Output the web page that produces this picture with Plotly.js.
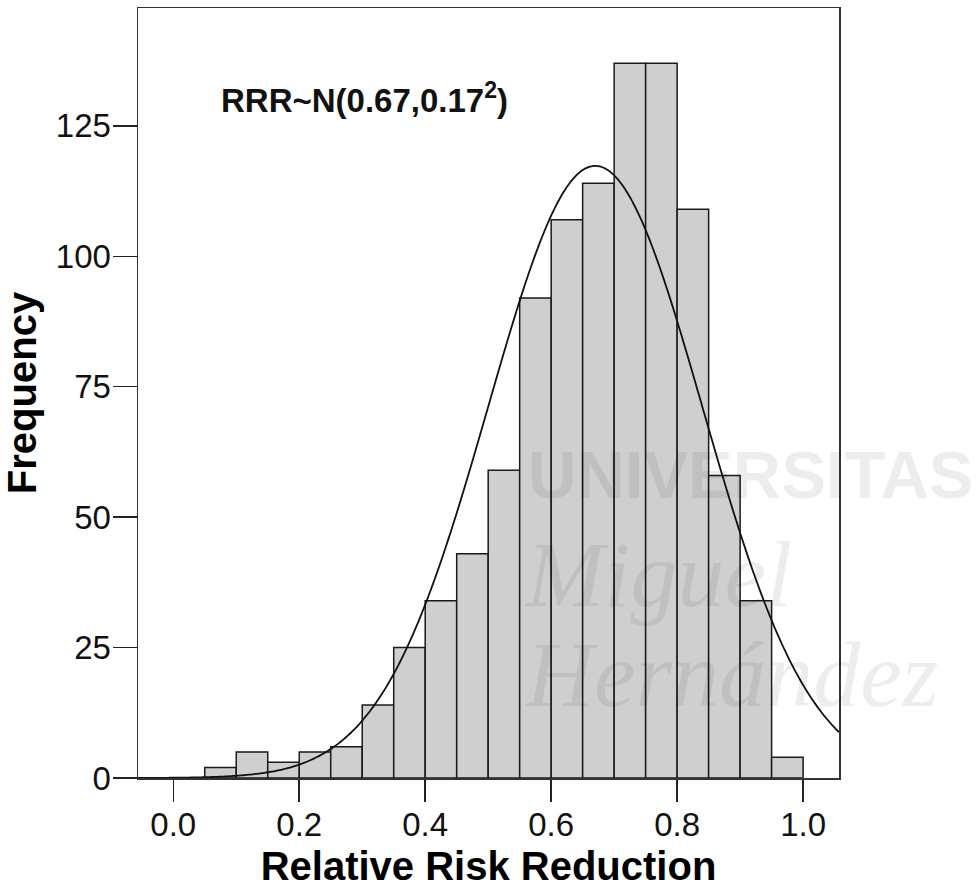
<!DOCTYPE html>
<html>
<head>
<meta charset="utf-8">
<script src="https://cdn.plot.ly/plotly-3.0.1.min.js"></script>
<style>
  html, body { margin: 0; padding: 0; background: #ffffff; }
  #chart { width: 980px; height: 893px; }
</style>
</head>
<body>
<div id="chart"></div>
<script>
// ---- Data ----
const binStarts = [0.05, 0.10, 0.15, 0.20, 0.25, 0.30, 0.35, 0.40, 0.45, 0.50,
                   0.55, 0.60, 0.65, 0.70, 0.75, 0.80, 0.85, 0.90, 0.95];
const binWidth = 0.05;
const frequencies = [2, 5, 3, 5, 6, 14, 25, 34, 43, 59,
                     92, 107, 114, 137, 137, 109, 58, 34, 4];
const xTickVals = [0.0, 0.2, 0.4, 0.6, 0.8, 1.0];
const xTickText = ["0.0", "0.2", "0.4", "0.6", "0.8", "1.0"];
const yTickVals = [0, 25, 50, 75, 100, 125];
const yTickText = ["0", "25", "50", "75", "100", "125"];

// Fitted normal curve parameters (shown on the chart)
const fitMean = 0.67;
const fitSD = 0.17;
const sampleSize = 1000;
const curveRange = [-0.056, 1.057];

// ---- Build traces ----
const binCenters = binStarts.map(s => s + binWidth / 2);

const curveX = [];
const curveY = [];
const nPts = 300;
for (let i = 0; i <= nPts; i++) {
  const x = curveRange[0] + (curveRange[1] - curveRange[0]) * i / nPts;
  const z = (x - fitMean) / fitSD;
  curveX.push(x);
  curveY.push(sampleSize * binWidth / (fitSD * Math.sqrt(2 * Math.PI)) * Math.exp(-0.5 * z * z));
}

const FONT = "Liberation Sans, Arial, Helvetica, sans-serif";
const WM = "rgba(0,0,0,0.07)";

const bars = {
  type: "bar",
  x: binCenters,
  y: frequencies,
  width: binWidth,
  marker: { color: "#cfcfcf", line: { color: "#1a1a1a", width: 1.5 } },
  hoverinfo: "x+y",
  showlegend: false
};

const curve = {
  type: "scatter",
  mode: "lines",
  x: curveX,
  y: curveY,
  line: { color: "#111111", width: 1.8, shape: "spline" },
  hoverinfo: "skip",
  showlegend: false
};

const layout = {
  width: 980,
  height: 893,
  margin: { l: 138, r: 141, t: 8, b: 115 },
  paper_bgcolor: "#ffffff",
  plot_bgcolor: "#ffffff",
  font: { family: FONT, color: "#111111" },
  bargap: 0,
  showlegend: false,
  xaxis: {
    range: curveRange,
    tickvals: xTickVals,
    ticktext: xTickText,
    ticks: "outside",
    ticklen: 22,
    tickwidth: 1.5,
    tickcolor: "#222222",
    ticklabelstandoff: -5,
    tickfont: { family: FONT, size: 33, color: "#111111" },
    showgrid: false,
    zeroline: false,
    showline: true,
    mirror: true,
    linecolor: "#333333",
    linewidth: 1.5,
    title: { text: "<b>Relative Risk Reduction</b>", font: { family: FONT, size: 40, color: "#000000" }, standoff: 10 }
  },
  yaxis: {
    range: [0, 147.6],
    tickvals: yTickVals,
    ticktext: yTickText,
    ticks: "outside",
    ticklen: 24,
    tickwidth: 1.5,
    tickcolor: "#222222",
    ticklabelstandoff: -5,
    tickfont: { family: FONT, size: 33, color: "#111111" },
    showgrid: false,
    zeroline: false,
    showline: true,
    mirror: true,
    linecolor: "#333333",
    linewidth: 1.5,
    title: { text: "<b>Frequency</b>", font: { family: FONT, size: 40, color: "#000000" }, standoff: 22 }
  },
  annotations: [
    {
      xref: "x", yref: "y", x: 0.073, y: 130.3,
      xanchor: "left", yanchor: "middle",
      text: "<b>RRR~N(0.67,0.17<sup>2</sup>)</b>",
      showarrow: false,
      font: { family: FONT, size: 33, color: "#111111" }
    },
    {
      xref: "paper", yref: "paper", x: 0.553, y: 0.394,
      xanchor: "left", yanchor: "middle",
      text: "<b>UNIVERSITAS</b>", showarrow: false,
      font: { family: FONT, size: 67, color: WM }
    },
    {
      xref: "paper", yref: "paper", x: 0.548, y: 0.265,
      xanchor: "left", yanchor: "middle",
      text: "<i>Miguel</i>", showarrow: false,
      font: { family: "Liberation Serif, serif", size: 94, color: WM }
    },
    {
      xref: "paper", yref: "paper", x: 0.548, y: 0.135,
      xanchor: "left", yanchor: "middle",
      text: "<i>Hernández</i>", showarrow: false,
      font: { family: "Liberation Serif, serif", size: 94, color: WM }
    }
  ]
};

Plotly.newPlot("chart", [bars, curve], layout, { displayModeBar: false, staticPlot: true });
</script>
</body>
</html>
